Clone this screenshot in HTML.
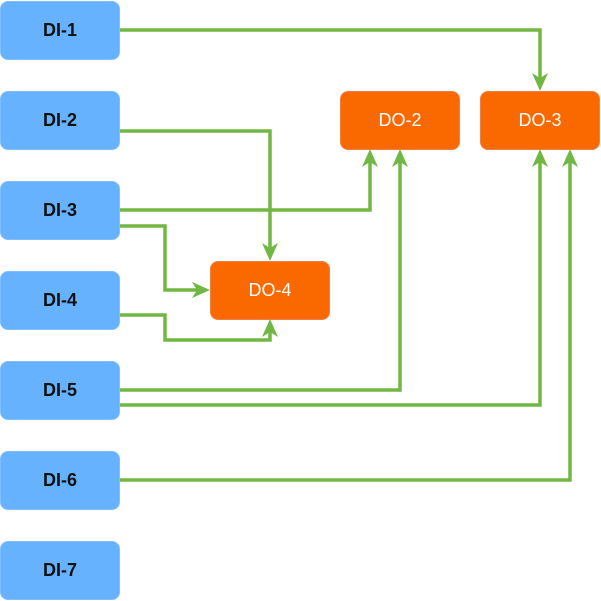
<!DOCTYPE html>
<html><head><style>
body{margin:0;width:601px;height:601px;background:#fff;position:relative;overflow:hidden;font-family:"Liberation Sans",Arial,sans-serif}
.b{position:absolute;width:120px;height:59px;border-radius:8px;display:flex;align-items:center;justify-content:center;font-size:18px;box-sizing:border-box}
.di{background:#66b2ff;border:1px solid #7fbfff;color:#111;font-weight:bold}
.do{background:#fa6800;border:1px solid #f08040;color:#fff}
svg{position:absolute;left:0;top:0}
</style></head><body>
<div class="b di" style="left:0px;top:1px">DI-1</div>
<div class="b di" style="left:0px;top:91px">DI-2</div>
<div class="b di" style="left:0px;top:181px">DI-3</div>
<div class="b di" style="left:0px;top:271px">DI-4</div>
<div class="b di" style="left:0px;top:361px">DI-5</div>
<div class="b di" style="left:0px;top:451px">DI-6</div>
<div class="b di" style="left:0px;top:541px">DI-7</div>
<div class="b do" style="left:340px;top:91px">DO-2</div>
<div class="b do" style="left:480px;top:91px">DO-3</div>
<div class="b do" style="left:210px;top:261px">DO-4</div>
<svg width="601" height="601">
<g fill="none" stroke="#71b744" stroke-width="3.5">
<path d="M120,30 H540 V80"/>
<path d="M120,131 H270 V250"/>
<path d="M120,210 H370 V160"/>
<path d="M120,226 H165 V290 H199"/>
<path d="M120,315 H165 V340 H270 V330"/>
<path d="M120,390 H400 V160"/>
<path d="M120,405 H540 V160"/>
<path d="M120,480 H570 V160"/>
</g>
<g fill="#71b744">
<path d="M540,91 L532,73 L540,78 L548,73 Z"/>
<path d="M270,261 L262,243 L270,248 L278,243 Z"/>
<path d="M210,290 L192,282 L197,290 L192,298 Z"/>
<path d="M370,149 L362,167 L370,162 L378,167 Z"/>
<path d="M400,149 L392,167 L400,162 L408,167 Z"/>
<path d="M540,149 L532,167 L540,162 L548,167 Z"/>
<path d="M570,149 L562,167 L570,162 L578,167 Z"/>
<path d="M270,319 L262,337 L270,332 L278,337 Z"/>
</g></svg>
</body></html>
